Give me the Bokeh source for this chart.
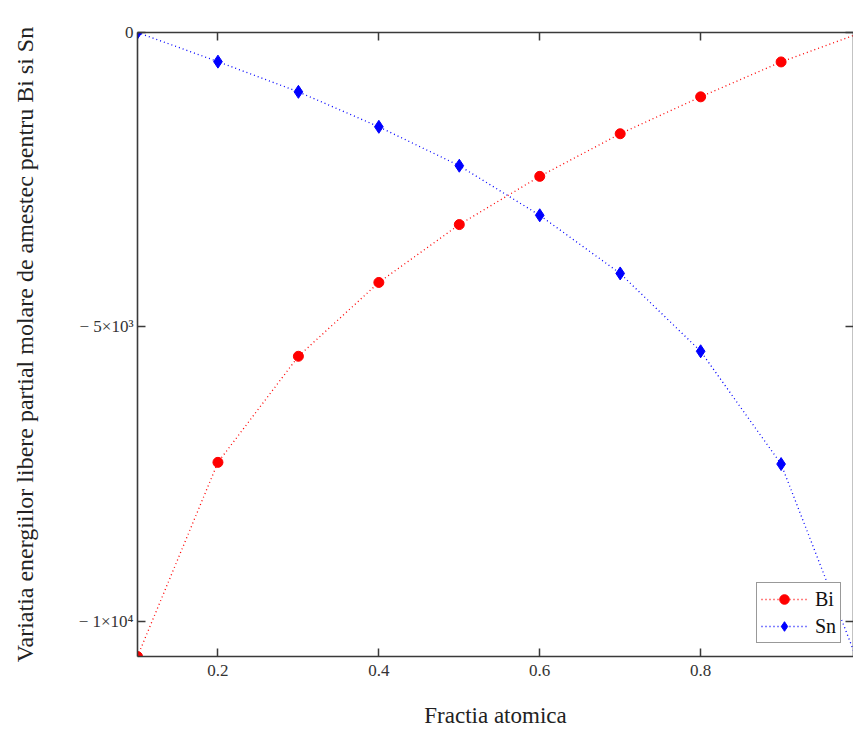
from bokeh.plotting import figure
from bokeh.models import (Range1d, FixedTicker, LinearAxis, Legend, LegendItem)
from bokeh.embed import file_html
from bokeh.resources import INLINE

# ---- data ----
x_pts = [0.1, 0.2, 0.3, 0.4, 0.5, 0.6, 0.7, 0.8, 0.9]
bi_vals = [-10600, -7302, -5500, -4246, -3263, -2444, -1720, -1093, -500]
sn_vals = [0, -495, -1008, -1602, -2263, -3105, -4093, -5415, -7331]
x_end = 1.0
bi_end = 0
sn_end = -10850
x_ticks = [0.2, 0.4, 0.6, 0.8]
y_ticks = [-10000, -5000, 0]
y_tick_labels = {-10000: "\u2212 1\u00d710\u2074", -5000: "\u2212 5\u00d710\u00b3", 0: "0"}
x_title = "Fractia atomica"
y_title = "Variatia energiilor libere partial molare de amestec pentru Bi si Sn"

FONT = "Liberation Serif"
AX = "#3a3a3a"

p = figure(width=853, height=730, output_backend="svg", toolbar_location=None,
           x_range=Range1d(0.1, 0.99), y_range=Range1d(-10600, 0),
           min_border_left=137, min_border_top=32, min_border_bottom=73,
           min_border_right=0, background_fill_color="white")
p.xgrid.visible = False
p.ygrid.visible = False
p.outline_line_color = None

bi_line = p.line(x_pts + [x_end], bi_vals + [bi_end], line_color="#ff0000",
                 line_dash="1 3", line_width=1.3)
sn_line = p.line(x_pts + [x_end], sn_vals + [sn_end], line_color="#0000ff",
                 line_dash="1 3", line_width=1.3)
bi_pts = p.scatter(x_pts, bi_vals, marker="circle", size=10,
                   fill_color="#ff0000", line_color="#ff0000")
sn_pts = p.scatter(x_pts, sn_vals, marker="diamond", size=13,
                   fill_color="#0000ff", line_color="#0000ff")

def style(ax):
    ax.axis_line_color = AX
    ax.axis_line_width = 1.6
    ax.major_tick_line_color = AX
    ax.major_tick_line_width = 1.5
    ax.major_tick_in = 8
    ax.major_tick_out = 0
    ax.minor_tick_line_color = None
    ax.major_label_text_font = FONT
    ax.major_label_text_font_size = "17px"
    ax.major_label_text_color = "#333333"
    ax.axis_label_text_font = FONT
    ax.axis_label_text_font_size = "23px"
    ax.axis_label_text_font_style = "normal"
    ax.axis_label_text_color = "#222222"

xa = p.xaxis[0]
style(xa)
xa.ticker = FixedTicker(ticks=x_ticks)
xa.axis_label = x_title
xa.major_label_standoff = 8
xa.axis_label_standoff = 24

ya = p.yaxis[0]
style(ya)
ya.ticker = FixedTicker(ticks=y_ticks)
ya.major_label_overrides = y_tick_labels
ya.axis_label = y_title
ya.axis_label_text_font_size = "24px"
ya.major_label_standoff = 4
ya.axis_label_standoff = 38

top = LinearAxis(ticker=FixedTicker(ticks=x_ticks))
style(top)
top.major_label_text_font_size = "1px"
top.major_label_text_color = None
top.major_label_standoff = 0
p.add_layout(top, "above")

right = LinearAxis(ticker=FixedTicker(ticks=y_ticks))
style(right)
right.major_label_text_font_size = "1px"
right.major_label_text_color = None
right.major_label_standoff = 0
p.add_layout(right, "right")

legend = Legend(items=[LegendItem(label="Bi", renderers=[bi_line, bi_pts]),
                       LegendItem(label="Sn", renderers=[sn_line, sn_pts])],
                location=(619, 13))
legend.label_text_font = FONT
legend.label_text_font_size = "20px"
legend.label_text_color = "#111111"
legend.glyph_width = 46
legend.glyph_height = 24
legend.spacing = 3
legend.padding = 4
legend.margin = 0
legend.label_standoff = 8
legend.border_line_color = "#333333"
legend.border_line_width = 1.5
legend.background_fill_alpha = 1.0
p.add_layout(legend)

open("out.html", "w").write(file_html(p, INLINE))
